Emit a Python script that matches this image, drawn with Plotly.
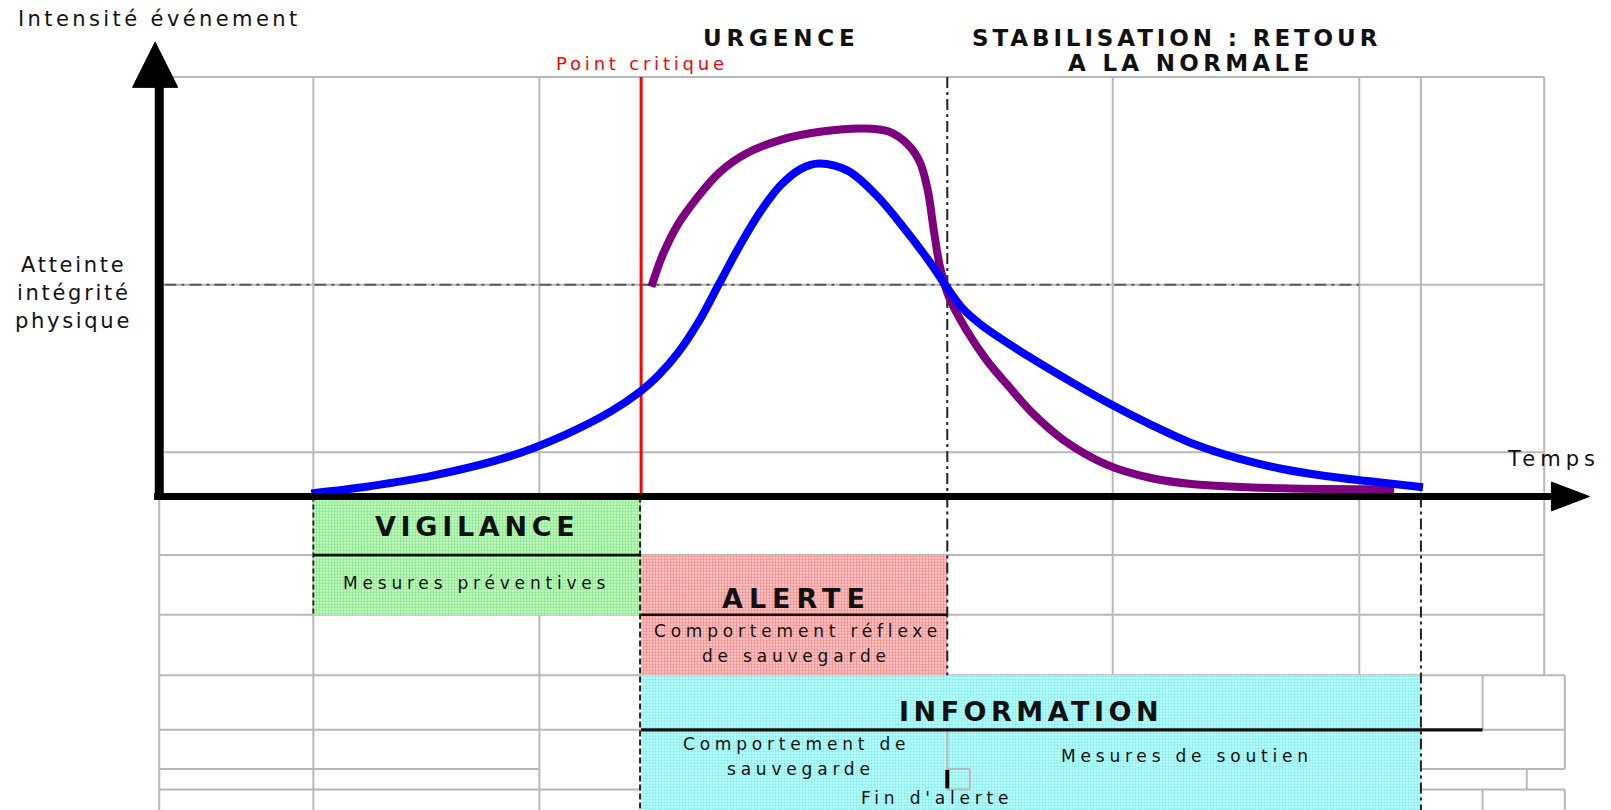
import plotly.graph_objects as go

# ---------------- DATA ----------------
# Time (t) measured from the vertical axis, intensity (I) measured from the time axis
blue_t = [148, 205, 265, 341, 395, 440, 468, 485, 505, 525, 545, 565, 585, 605, 625, 642,
          670, 698, 725, 750, 767, 781, 800, 845, 885, 922, 965, 1007, 1050, 1092, 1135, 1176, 1230]
blue_i = [3, 10, 20, 39, 60, 83, 102, 117, 140, 170, 207, 244, 277, 303, 319, 324,
          317, 293, 261, 228, 203, 184, 167, 137, 113, 92, 70, 51, 37, 27, 20, 15, 9]

purple_t = [479, 490, 505, 523, 545, 570, 605, 645, 685, 710, 728, 740, 748, 754, 760,
            769, 785, 805, 826, 850, 880, 922, 965, 1007, 1092, 1202]
purple_i = [204, 235, 265, 290, 315, 333, 347, 355, 358, 355, 343, 326, 298, 258, 223,
            193, 163, 133, 108, 81, 55, 31, 18, 12, 8, 7]

# Phase boundaries (time)
t_start = 150
t_critical = 469
t_urgence_end = 767
t_end = 1228
seuil = 206  # "Atteinte intégrité physique"

phase_names = ["VIGILANCE", "ALERTE", "INFORMATION"]
phase_start = [t_start, t_critical, t_critical]
phase_end = [t_critical, t_urgence_end, t_end]
phase_colors = ["#cdf7cd", "#fbcaca", "#c8fafa"]
phase_dots = ["#2fe22f", "#f04848", "#2ee6e6"]
phase_rows = [(-115, 0), (-174, -57), (-305, -174)]

grid_x = [150, 370, 928, 1168, 1228, 1348]
grid_y = [408, seuil, 43]

FONT = "DejaVu Sans"


def sp(s, px):
    return f'<span style="letter-spacing:{px}px">{s}</span>'


fig = go.Figure()

shapes = []


def line(x0, y0, x1, y1, color="#b8b8b8", width=2, dash=None, layer="below"):
    d = dict(type="line", x0=x0, y0=y0, x1=x1, y1=y1, layer=layer,
             line=dict(color=color, width=width))
    if dash:
        d["line"]["dash"] = dash
    shapes.append(d)


# chart grid
for gx in grid_x:
    line(gx, 0, gx, 408)
for gy in grid_y:
    line(5, gy, 1348, gy)

# table grid
for gy, x1 in [(-57, 1348), (-115, 1348), (-174, 1368), (-227, 1368), (-285, 1368)]:
    line(0, gy, x1, gy)
line(0, -265, 370, -265)
line(767, -265, 1368, -265)
for gx in [0, 150, 370]:
    line(gx, 0, gx, -305)
for gx in [928, 1168, 1348]:
    line(gx, 0, gx, -174)
line(1288, -174, 1288, -227)
line(1288, -285, 1288, -305)
line(1368, -174, 1368, -265)
line(1368, -285, 1368, -305)
line(1331, -265, 1331, -285)
line(767, -227, 767, -265, layer="above")
line(789, -265, 789, -285, layer="above")
line(767, -265, 789, -265, layer="above")
line(767, -285, 789, -285, layer="above")

# threshold and reference lines in the chart
line(5, seuil, 1168, seuil, color="#5a5a5a", width=2, dash="12px,5px,3px,5px")
line(t_critical, 0, t_critical, 408, color="#ff0000", width=3)
line(t_urgence_end, 408, t_urgence_end, 0, color="#222222", width=2, dash="11px,4px,3px,4px")

# table structure lines (above fills)
line(t_urgence_end, 0, t_urgence_end, -174, color="#222222", width=2, dash="11px,4px,3px,4px", layer="above")
line(t_end, 0, t_end, -305, color="#222222", width=2, dash="11px,4px,3px,4px", layer="above")
line(t_start, 0, t_start, -115, color="#222222", width=1.8, dash="5px,3px", layer="above")
line(t_critical - 1, 0, t_critical - 1, -305, color="#222222", width=2, dash="6px,3px", layer="above")
line(t_start, -57, t_critical, -57, color="#111111", width=2.6, layer="above")
line(t_critical, -115, t_urgence_end, -115, color="#111111", width=2.6, layer="above")
line(t_critical, -227, 1288, -227, color="#111111", width=3.2, layer="above")
line(t_urgence_end, -266, t_urgence_end, -284, color="#000000", width=4, layer="above")

# axes with arrows
line(0, -3, 0, 402, color="#000000", width=9, layer="above")
line(-5, 0, 1357, 0, color="#000000", width=7, layer="above")
shapes.append(dict(type="path", path="M -4,442 L -26,398 L 18,398 Z",
                   fillcolor="#000000", line=dict(color="#000000", width=1), layer="above"))
shapes.append(dict(type="path", path="M 1392,0 L 1355,14 L 1355,-14 Z",
                   fillcolor="#000000", line=dict(color="#000000", width=1), layer="above"))

# ---------- phase fills ----------
for name, s, e, c, dc, (b, top) in zip(phase_names, phase_start, phase_end,
                                       phase_colors, phase_dots, phase_rows):
    fig.add_trace(go.Bar(
        x=[(s + e) / 2], y=[top - b], base=[b], width=[e - s],
        marker=dict(color=c, line=dict(width=0),
                    pattern=dict(shape=".", fgcolor=dc, size=3, solidity=0.45,
                                 fillmode="overlay")),
        showlegend=False, hoverinfo="skip", name=name))

# ---------- curves ----------
fig.add_trace(go.Scatter(x=purple_t, y=purple_i, mode="lines",
                         line=dict(color="#7d007f", width=8, shape="spline", smoothing=1.0),
                         showlegend=False, hoverinfo="skip"))
fig.add_trace(go.Scatter(x=blue_t, y=blue_i, mode="lines",
                         line=dict(color="#0000ff", width=8, shape="spline", smoothing=1.0),
                         showlegend=False, hoverinfo="skip"))

# ---------- texts ----------
ann = []


def txt(x, y, s, size, color="#111111", bold=False, spacing=0, xanchor="center"):
    t = s
    if spacing:
        t = sp(t, spacing)
    if bold:
        t = f"<b>{t}</b>"
    ann.append(dict(x=x, y=y, xref="x", yref="y", text=t, showarrow=False,
                    xanchor=xanchor, yanchor="middle",
                    font=dict(family=FONT, size=size, color=color)))


txt(0, 465, "Intensité événement", 21, spacing=3.4)
txt(605, 446, "URGENCE", 23, bold=True, spacing=4.8)
txt(990, 446, "STABILISATION : RETOUR", 23, bold=True, spacing=3.9)
txt(1004, 422, "A LA NORMALE", 23, bold=True, spacing=4.3)
txt(470, 421, "Point critique", 18, color="#ff0000", spacing=3.8)
txt(-83, 225, "Atteinte", 21, spacing=2.7)
txt(-83, 198, "intégrité", 21, spacing=2.7)
txt(-83, 171, "physique", 21, spacing=2.7)
txt(1357, 36, "Temps", 21, spacing=5)
txt(309, -29, "VIGILANCE", 27, bold=True, spacing=4.7)
txt(309, -84, "Mesures préventives", 17, spacing=4.8)
txt(620, -99, "ALERTE", 27, bold=True, spacing=6)
txt(622, -131, "Comportement réflexe", 17, spacing=4.8)
txt(620, -155, "de sauvegarde", 17, spacing=4.8)
txt(848, -209, "INFORMATION", 27, bold=True, spacing=4.5)
txt(620, -241, "Comportement de", 17, spacing=4.8)
txt(625, -265, "sauvegarde", 17, spacing=4.8)
txt(1000, -252, "Mesures de soutien", 17, spacing=4.8)
txt(757, -293, "Fin d'alerte", 17, spacing=4.8)

fig.update_layout(
    width=1611, height=810, autosize=False,
    margin=dict(l=0, r=0, t=0, b=0),
    paper_bgcolor="white", plot_bgcolor="white",
    barmode="overlay",
    xaxis=dict(range=[-155, 1413], visible=False, fixedrange=True),
    yaxis=dict(range=[-305, 483], visible=False, fixedrange=True),
    shapes=shapes, annotations=ann,
)

fig.write_html("out.html", config={"displayModeBar": False},
               post_script="document.body.style.margin='0';document.body.style.overflow='hidden';")
